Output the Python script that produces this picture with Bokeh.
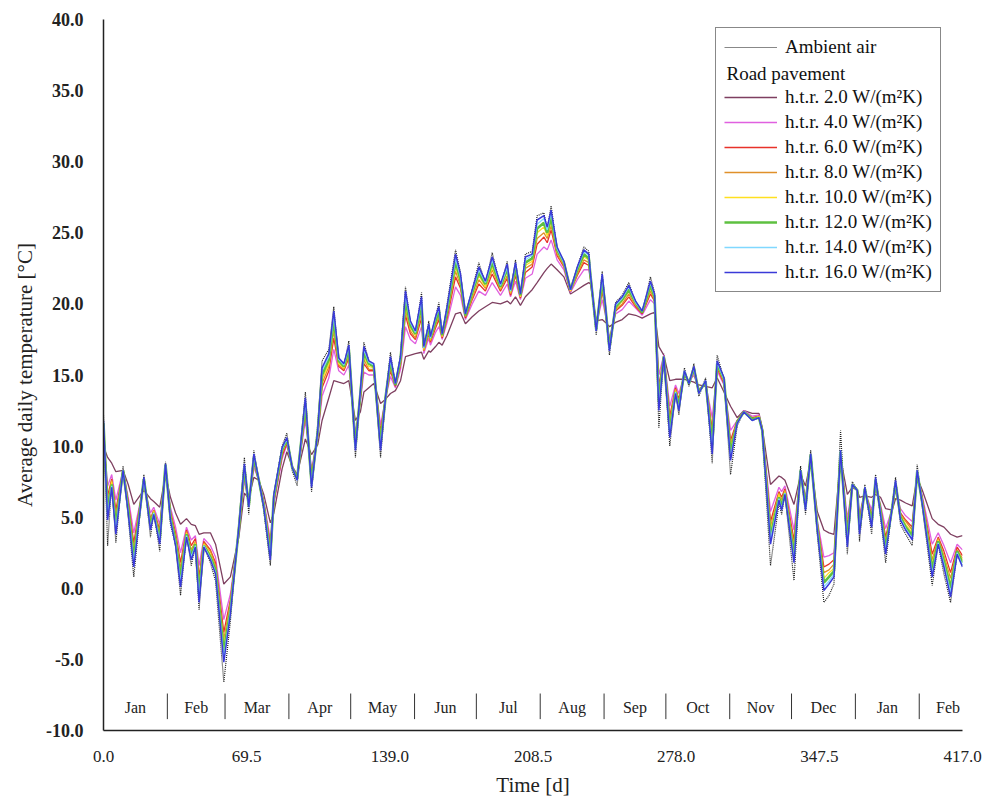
from bokeh.plotting import figure
from bokeh.models import (Range1d, FixedTicker, PrintfTickFormatter, Legend,
                          LegendItem, Label)
from bokeh.core.properties import value
from bokeh.embed import file_html
from bokeh.resources import INLINE

FONT = "Liberation Serif"
NAN = float("nan")

days = [0, 2, 4, 6, 9.5, 12, 14.7, 19.6, 22.8, 24.4,
        27.3, 30.1, 32.5, 35, 37.4, 40.3, 42.6, 44.6, 46.4, 48.7,
        51.9, 54.4, 58.4, 61.6, 65.7, 68.4, 70.5, 73, 75.4, 77.8,
        81, 82.7, 86.7, 89, 91.6, 94, 98, 101, 104, 106.1,
        109.4, 111.8, 114.2, 116.7, 119.1, 122.3, 124.7, 126.4, 128.8, 131.2,
        134.5, 136.9, 139.3, 141.7, 144.2, 146.6, 149, 151.4, 154.4, 155.5,
        157.9, 158.7, 161.2, 162.8, 164.4, 166.8, 170.9, 173.3, 175.7, 179,
        182.2, 185.4, 188.7, 192.7, 196, 197.6, 200, 202.4, 204.8, 208.1,
        210.5, 213.8, 215.4, 217.3, 220.2, 223.5, 226.7, 230, 233.2, 235.6,
        236.4, 239.2, 242.1, 243.7, 245.6, 248.6, 251.8, 255, 258.3, 261.5,
        265.5, 267.5, 269.6, 272, 274.9, 277.7, 279.3, 282, 284.2, 286.6,
        289, 292.3, 295.5, 297.9, 301.2, 304.4, 307.6, 310.9, 314.9, 318.2,
        319.8, 323.8, 327.9, 329.2, 330.8, 335.2, 338.4, 340.8, 343.3, 346.5,
        349.7, 352.2, 354.6, 357.8, 361.1, 363.5, 365.9, 367, 369.6, 372.9,
        374.8, 377.2, 379.7, 382.9, 384.5, 386.9, 389.4, 392.6, 395, 397.5,
        402.3, 405.2, 408, 411.2, 414.4, 417]

ambient = [12.2, 3.0, 7.5, 3.2, 8.6, 5.0, 0.8, 8.0, 3.6, 5.4,
           2.6, 8.9, 4.5, 3.0, -0.5, 3.8, 1.6, 3.0, -1.5, 3.0,
           1.8, 0.5, -6.6, -2.3, 4.6, 9.2, 5.2, 9.7, 7.6, 5.5,
           1.6, 6.6, 10.0, 10.9, 8.3, 7.2, 13.8, 6.8, 11.5, 16.0,
           16.8, 19.8, 16.0, 15.6, 17.4, 9.2, 13.7, 17.3, 16.0, 15.6,
           9.2, 13.3, 16.6, 14.2, 16.4, 21.2, 18.6, 17.9, 20.8, 16.6,
           18.8, 17.5, 19.1, 20.1, 17.7, 20.0, 23.8, 22.2, 19.0, 21.0,
           22.9, 21.4, 23.6, 21.2, 23.0, 20.7, 23.1, 20.4, 23.5, 23.7,
           26.2, 26.4, 25.2, 26.9, 23.8, 23.0, 20.8, 22.6, 24.0, 23.7,
           22.0, 17.8, 22.3, 19.6, 16.4, 20.1, 20.6, 21.5, 20.1, 19.3,
           21.9, 20.8, 11.3, 16.5, 10.0, 13.8, 12.2, 15.5, 14.2, 15.8,
           13.5, 14.8, 8.8, 16.4, 14.7, 8.0, 11.4, 12.5, 11.8, 12.0,
           11.0, 1.6, 6.0, 5.2, 6.6, 0.55, 8.6, 5.2, 9.7, 3.8,
           -1.0, -0.5, 0.3, 11.1, 2.4, 7.5, 6.9, 3.3, 7.3, 3.8,
           8.0, 5.0, 1.8, 5.8, 7.8, 4.5, 3.8, 3.0, 8.7, 5.7,
           0.2, 3.1, 1.0, -1.0, 2.4, 1.6]

htr_2 = [10.0, 9.2, 8.8, 8.2, 8.3, 7.3, 5.9, 6.9, 6.3, 6.1,
         5.7, 8.0, 6.4, 5.3, 4.5, 4.9, 4.5, 4.4, 3.8, 3.9,
         3.9, 3.1, 0.3, 0.8, 3.6, 6.7, 6.3, 7.8, 7.6, 6.6,
         4.6, 5.3, 8.4, 9.6, 8.6, 8.0, 10.5, 9.4, 10.1, 11.8,
         13.4, 14.6, 14.5, 14.4, 14.6, 11.8, 12.4, 13.8, 14.1, 14.4,
         13.0, 13.3, 13.7, 13.9, 14.6, 16.3, 16.4, 16.5, 16.6, 16.1,
         16.7, 16.6, 17.0, 17.3, 17.1, 17.8, 19.3, 19.4, 18.6, 19.1,
         19.5, 19.8, 20.1, 20.0, 20.2, 20.0, 20.5, 19.9, 20.5, 21.0,
         21.5, 22.2, 22.5, 22.8, 22.4, 21.9, 20.7, 21.0, 21.3, 21.5,
         21.4, 18.8, 18.9, 18.7, 18.4, 18.7, 18.9, 19.3, 19.2, 19.0,
         19.3, 19.4, 17.0, 16.4, 14.6, 14.7, 14.7, 14.7, 14.6, 14.5,
         14.3, 14.2, 14.1, 14.8, 13.8, 12.8, 12.0, 12.5, 12.3, 12.3,
         11.3, 7.3, 7.9, 7.8, 7.6, 5.9, 8.0, 7.2, 9.0, 5.4,
         4.1, 3.9, 3.8, 9.2, 6.6, 7.1, 6.9, 6.4, 6.5, 6.4,
         6.6, 6.4, 5.6, 5.5, 6.3, 6.2, 6.0, 5.8, 7.8, 6.9,
         4.9, 4.5, 4.3, 3.8, 3.6, 3.7]

htr_4 = [10.8, 7.2, 8.0, 6.2, 8.3, 6.4, 3.9, 7.3, 5.3, 5.7,
         4.5, 8.3, 5.7, 4.3, 2.5, 4.3, 3.4, 3.7, 1.6, 3.5,
         3.0, 2.2, -2.2, -0.4, 3.9, 7.6, 6.0, 8.5, 7.6, 6.2,
         3.4, 5.9, 9.1, 10.1, 8.6, 7.8, 11.8, 8.4, 10.6, 13.5,
         14.8, 16.8, 15.3, 15.0, 15.7, 10.9, 13.1, 15.2, 15.0, 15.0,
         11.5, 13.3, 14.9, 14.1, 15.4, 18.4, 17.5, 17.2, 18.4, 16.5,
         17.6, 17.1, 18.0, 18.4, 17.5, 18.7, 21.2, 20.6, 18.9, 20.0,
         20.9, 20.6, 21.5, 20.6, 21.4, 20.5, 21.6, 20.3, 21.8, 22.1,
         23.5, 24.0, 23.8, 24.5, 23.1, 22.4, 20.8, 21.7, 22.4, 22.4,
         21.7, 18.5, 20.3, 19.2, 17.6, 19.3, 19.6, 20.2, 19.7, 19.2,
         20.3, 20.0, 15.0, 16.4, 12.8, 14.3, 13.7, 15.0, 14.5, 15.0,
         14.0, 14.4, 12.0, 15.3, 14.3, 11.1, 11.8, 12.5, 12.1, 12.2,
         11.2, 5.4, 7.1, 6.8, 7.2, 4.1, 8.1, 6.4, 9.2, 4.8,
         2.2, 2.3, 2.5, 9.4, 4.9, 7.2, 6.9, 5.2, 6.8, 5.5,
         7.1, 5.9, 4.2, 5.6, 6.9, 5.6, 5.1, 4.7, 8.0, 6.5,
         3.1, 3.9, 3.0, 1.8, 3.1, 2.7]

htr_6 = [11.1, 6.5, 7.7, 5.5, 8.3, 6.1, 3.2, 7.5, 4.9, 5.5,
         4.1, 8.5, 5.4, 3.9, 1.8, 4.1, 3.0, 3.5, 0.8, 3.3,
         2.7, 1.8, -3.1, -0.8, 4.0, 8.0, 5.9, 8.8, 7.6, 6.0,
         3.0, 6.1, 9.3, 10.2, 8.5, 7.8, 12.3, 8.0, 10.7, 14.1,
         15.3, 17.6, 15.6, 15.3, 16.2, 10.5, 13.3, 15.8, 15.3, 15.3,
         11.0, 13.4, 15.3, 14.2, 15.7, 19.2, 17.9, 17.5, 19.0, 16.7,
         17.9, 17.3, 18.3, 18.9, 17.6, 19.0, 21.9, 21.1, 19.0, 20.3,
         21.4, 20.9, 22.1, 20.9, 21.8, 20.6, 22.0, 20.4, 22.2, 22.6,
         24.2, 24.7, 24.3, 25.2, 23.4, 22.6, 20.9, 22.0, 22.9, 22.7,
         21.8, 18.4, 20.9, 19.4, 17.3, 19.5, 19.9, 20.5, 19.8, 19.3,
         20.7, 20.2, 14.2, 16.3, 12.1, 14.1, 13.3, 15.1, 14.5, 15.2,
         13.9, 14.4, 11.2, 15.5, 14.4, 10.4, 11.8, 12.4, 12.0, 12.1,
         11.2, 4.7, 6.8, 6.4, 7.0, 3.4, 8.2, 6.1, 9.3, 4.6,
         1.5, 1.7, 2.0, 9.5, 4.3, 7.2, 6.9, 4.8, 6.9, 5.1,
         7.3, 5.7, 3.6, 5.6, 7.1, 5.3, 4.8, 4.3, 8.1, 6.3,
         2.4, 3.6, 2.6, 1.1, 2.9, 2.3]

htr_8 = [11.3, 6.1, 7.6, 5.1, 8.3, 5.9, 2.8, 7.5, 4.7, 5.5,
         3.9, 8.5, 5.3, 3.7, 1.4, 4.0, 2.7, 3.3, 0.4, 3.2,
         2.6, 1.6, -3.6, -1.0, 4.1, 8.2, 5.9, 9.0, 7.6, 6.0,
         2.8, 6.2, 9.5, 10.3, 8.5, 7.7, 12.6, 7.8, 10.8, 14.4,
         15.6, 18.1, 15.7, 15.4, 16.4, 10.3, 13.5, 16.1, 15.4, 15.4,
         10.7, 13.4, 15.5, 14.3, 15.8, 19.6, 18.1, 17.6, 19.4, 16.7,
         18.0, 17.4, 18.5, 19.1, 17.7, 19.2, 22.3, 21.3, 19.1, 20.4,
         21.7, 21.1, 22.4, 21.0, 22.0, 20.7, 22.2, 20.5, 22.5, 22.8,
         24.6, 25.0, 24.6, 25.5, 23.5, 22.7, 20.9, 22.1, 23.1, 22.9,
         21.9, 18.3, 21.2, 19.5, 17.2, 19.6, 20.0, 20.7, 19.9, 19.4,
         20.9, 20.3, 13.8, 16.3, 11.8, 14.0, 13.1, 15.1, 14.5, 15.3,
         13.9, 14.5, 10.8, 15.6, 14.5, 10.1, 11.7, 12.4, 11.9, 12.1,
         11.2, 4.3, 6.7, 6.2, 6.9, 3.0, 8.2, 6.0, 9.3, 4.5,
         1.1, 1.3, 1.7, 9.6, 4.0, 7.2, 6.9, 4.6, 6.9, 4.9,
         7.4, 5.5, 3.3, 5.6, 7.2, 5.2, 4.7, 4.1, 8.2, 6.2,
         2.0, 3.5, 2.3, 0.7, 2.7, 2.1]

htr_10 = [11.4, 5.7, 7.5, 4.7, 8.3, 5.7, 2.4, 7.6, 4.6, 5.4,
          3.6, 8.6, 5.1, 3.5, 1.0, 3.9, 2.5, 3.2, 0.0, 3.1,
          2.4, 1.4, -4.0, -1.3, 4.2, 8.3, 5.8, 9.1, 7.6, 5.9,
          2.5, 6.3, 9.6, 10.4, 8.5, 7.7, 12.8, 7.6, 10.9, 14.7,
          15.8, 18.5, 15.8, 15.5, 16.6, 10.1, 13.6, 16.3, 15.6, 15.5,
          10.4, 13.4, 15.8, 14.3, 15.9, 19.9, 18.3, 17.8, 19.7, 16.8,
          18.2, 17.5, 18.7, 19.3, 17.7, 19.4, 22.6, 21.5, 19.2, 20.6,
          22.0, 21.2, 22.6, 21.1, 22.3, 20.8, 22.4, 20.5, 22.7, 23.0,
          25.0, 25.4, 24.8, 25.8, 23.7, 22.8, 20.9, 22.3, 23.3, 23.1,
          22.0, 18.2, 21.4, 19.6, 17.1, 19.7, 20.2, 20.9, 20.0, 19.4,
          21.1, 20.4, 13.4, 16.3, 11.4, 13.9, 13.0, 15.2, 14.4, 15.4,
          13.8, 14.5, 10.4, 15.7, 14.6, 9.8, 11.7, 12.4, 11.9, 12.1,
          11.1, 4.0, 6.6, 6.0, 6.8, 2.7, 8.2, 5.9, 9.4, 4.4,
          0.7, 1.1, 1.4, 9.6, 3.7, 7.3, 6.9, 4.3, 7.0, 4.7,
          7.5, 5.5, 3.1, 5.7, 7.3, 5.1, 4.5, 3.9, 8.2, 6.1,
          1.7, 3.4, 2.1, 0.3, 2.6, 2.0]

htr_12 = [11.6, 5.4, 7.3, 4.4, 8.3, 5.6, 2.1, 7.7, 4.4, 5.3,
          3.4, 8.7, 5.0, 3.3, 0.7, 3.8, 2.3, 3.1, -0.4, 3.0,
          2.2, 1.3, -4.5, -1.5, 4.2, 8.5, 5.8, 9.2, 7.6, 5.8,
          2.3, 6.4, 9.7, 10.5, 8.5, 7.7, 13.0, 7.4, 11.0, 15.0,
          16.1, 18.9, 16.0, 15.6, 16.8, 10.0, 13.7, 16.6, 15.8, 15.6,
          10.1, 13.4, 16.0, 14.3, 16.1, 20.3, 18.5, 17.9, 20.0, 16.9,
          18.4, 17.6, 18.8, 19.5, 17.8, 19.5, 23.0, 21.7, 19.2, 20.8,
          22.2, 21.4, 22.9, 21.2, 22.5, 20.9, 22.6, 20.6, 22.9, 23.2,
          25.3, 25.7, 25.0, 26.1, 23.8, 22.9, 21.0, 22.4, 23.5, 23.2,
          22.0, 18.2, 21.7, 19.7, 16.9, 19.8, 20.3, 21.0, 20.1, 19.4,
          21.3, 20.5, 13.1, 16.3, 11.1, 13.8, 12.8, 15.2, 14.4, 15.5,
          13.8, 14.5, 10.1, 15.8, 14.7, 9.5, 11.7, 12.4, 11.9, 12.0,
          11.1, 3.6, 6.4, 5.8, 6.7, 2.3, 8.3, 5.7, 9.4, 4.3,
          0.4, 0.8, 1.2, 9.6, 3.4, 7.3, 6.9, 4.1, 7.0, 4.6,
          7.6, 5.4, 2.8, 5.7, 7.4, 5.0, 4.3, 3.7, 8.2, 6.0,
          1.3, 3.3, 1.9, 0.0, 2.6, 1.8]

htr_14 = [11.7, 5.1, 7.2, 4.1, 8.3, 5.4, 1.8, 7.7, 4.2, 5.3,
          3.3, 8.7, 4.9, 3.1, 0.4, 3.7, 2.2, 3.0, -0.7, 3.0,
          2.1, 1.1, -4.9, -1.6, 4.3, 8.6, 5.7, 9.4, 7.6, 5.8,
          2.2, 6.5, 9.8, 10.5, 8.5, 7.6, 13.2, 7.2, 11.0, 15.3,
          16.3, 19.2, 16.1, 15.7, 17.0, 9.8, 13.8, 16.8, 15.9, 15.7,
          9.9, 13.4, 16.1, 14.4, 16.2, 20.6, 18.7, 18.0, 20.3, 16.9,
          18.5, 17.6, 19.0, 19.7, 17.9, 19.7, 23.2, 21.9, 19.3, 20.9,
          22.4, 21.5, 23.1, 21.3, 22.6, 20.9, 22.8, 20.7, 23.1, 23.4,
          25.6, 26.0, 25.2, 26.4, 23.9, 22.9, 21.0, 22.5, 23.7, 23.4,
          22.1, 18.1, 21.9, 19.7, 16.8, 19.9, 20.4, 21.2, 20.1, 19.5,
          21.5, 20.6, 12.8, 16.3, 10.8, 13.8, 12.6, 15.3, 14.4, 15.5,
          13.7, 14.6, 9.7, 15.9, 14.7, 9.2, 11.6, 12.4, 11.8, 12.0,
          11.1, 3.4, 6.3, 5.6, 6.7, 2.0, 8.3, 5.6, 9.4, 4.2,
          0.1, 0.5, 1.0, 9.7, 3.1, 7.3, 6.9, 4.0, 7.1, 4.4,
          7.7, 5.3, 2.6, 5.7, 7.5, 4.9, 4.2, 3.5, 8.3, 6.0,
          1.0, 3.2, 1.7, -0.3, 2.5, 1.6]

htr_16 = [11.8, 4.8, 7.1, 3.8, 8.3, 5.3, 1.5, 7.8, 4.1, 5.2,
          3.1, 8.75, 4.8, 3.0, 0.1, 3.6, 2.0, 2.9, -1.0, 2.9,
          2.0, 1.0, -5.2, -1.8, 4.3, 8.75, 5.7, 9.45, 7.6, 5.7,
          2.0, 6.6, 9.9, 10.6, 8.5, 7.6, 13.4, 7.1, 11.1, 15.5,
          16.5, 19.5, 16.2, 15.8, 17.1, 9.7, 13.9, 17.0, 16.0, 15.8,
          9.7, 13.4, 16.3, 14.4, 16.3, 20.9, 18.8, 18.1, 20.5, 17.0,
          18.6, 17.7, 19.1, 19.8, 17.9, 19.8, 23.5, 22.1, 19.3, 21.0,
          22.6, 21.6, 23.3, 21.4, 22.8, 21.0, 22.9, 20.7, 23.3, 23.5,
          25.9, 26.2, 25.4, 26.6, 24.0, 23.0, 21.0, 22.6, 23.8, 23.5,
          22.1, 18.1, 22.1, 19.8, 16.7, 20.0, 20.5, 21.3, 20.2, 19.5,
          21.6, 20.7, 12.5, 16.3, 10.6, 13.7, 12.5, 15.3, 14.4, 15.6,
          13.7, 14.6, 9.45, 16.0, 14.8, 9.0, 11.6, 12.4, 11.8, 12.0,
          11.1, 3.1, 6.2, 5.5, 6.6, 1.8, 8.3, 5.5, 9.45, 4.1,
          -0.15, 0.3, 0.8, 9.7, 2.9, 7.3, 6.9, 3.8, 7.1, 4.3,
          7.8, 5.2, 2.4, 5.7, 7.6, 4.8, 4.1, 3.4, 8.3, 5.9,
          0.8, 3.1, 1.5, -0.6, 2.4, 1.5]

series_labels = ["h.t.r. 2.0 W/(m\u00b2K)", "h.t.r. 4.0 W/(m\u00b2K)",
                 "h.t.r. 6.0 W/(m\u00b2K)", "h.t.r. 8.0 W/(m\u00b2K)",
                 "h.t.r. 10.0 W/(m\u00b2K)", "h.t.r. 12.0 W/(m\u00b2K)",
                 "h.t.r. 14.0 W/(m\u00b2K)", "h.t.r. 16.0 W/(m\u00b2K)"]
series_values = [htr_2, htr_4, htr_6, htr_8, htr_10, htr_12, htr_14, htr_16]
series_colors = ["#7e3f60", "#e060e0", "#e8322a", "#e0902a",
                 "#ffe020", "#5ec040", "#80d8ff", "#3a3ad8"]
series_widths = [1.3, 1.3, 1.3, 1.3, 1.3, 2.6, 1.3, 1.5]

month_names = ["Jan", "Feb", "Mar", "Apr", "May", "Jun", "Jul", "Aug",
               "Sep", "Oct", "Nov", "Dec", "Jan", "Feb"]
month_starts = [0, 31, 59, 90, 120, 151, 181, 212, 243, 273, 304, 334, 365, 396, 424]
x_ticks = [0, 69.5, 139, 208.5, 278, 347.5, 417]
y_ticks = [-10, -5, 0, 5, 10, 15, 20, 25, 30, 35, 40]

p = figure(width=994, height=807, x_range=Range1d(0, 417), y_range=Range1d(-10, 40),
           output_backend="svg", toolbar_location=None,
           min_border_left=103, min_border_right=32, min_border_top=19,
           min_border_bottom=77)
p.outline_line_color = None
p.grid.visible = False
p.background_fill_color = "white"
p.border_fill_color = "white"

for ax in (p.xaxis[0], p.yaxis[0]):
    ax.axis_line_color = "#222222"
    ax.axis_line_width = 1.5
    ax.major_tick_line_color = None
    ax.minor_tick_line_color = None
    ax.major_label_text_font = FONT
    ax.major_label_text_font_size = "17px"
    ax.major_label_text_color = "#222222"
    ax.axis_label_text_font = FONT
    ax.axis_label_text_font_size = "21px"
    ax.axis_label_text_font_style = "normal"
    ax.axis_label_text_color = "#222222"
    ax.formatter = PrintfTickFormatter(format="%.1f")

p.yaxis.major_label_text_font_style = "bold"
p.yaxis.major_label_text_font_size = "18px"
p.xaxis.ticker = FixedTicker(ticks=x_ticks)
p.yaxis.ticker = FixedTicker(ticks=y_ticks)
p.xaxis.axis_label = "Time [d]"
p.yaxis.axis_label = "Average daily temperature [\u00b0C]"
p.xaxis.major_label_standoff = 14
p.yaxis.major_label_standoff = 14
p.xaxis.axis_label_standoff = 8
p.yaxis.axis_label_standoff = 6

# month band
bounds = month_starts[1:-1]
centers = [(a + b) / 2 for a, b in zip(month_starts[:-1], month_starts[1:])]
p.segment(x0=bounds, y0=[-7.4] * len(bounds), x1=bounds, y1=[-9.2] * len(bounds),
          line_color="#333333", line_width=1)
p.text(x=centers, y=[-8.35] * len(centers), text=month_names,
       text_font=value(FONT), text_font_size="16px", text_align="center",
       text_baseline="middle", text_color="#222222")

# ambient (dotted in plot)
r_amb = p.line(days, ambient, line_color="#222222", line_width=1.2, line_dash="1 1")
# legend proxies (no visible data)
r_amb_leg = p.line([0, 1], [NAN, NAN], line_color="#888888", line_width=1)
r_blank = p.line([0, 1], [NAN, NAN], line_color="white", line_alpha=0)

items = [LegendItem(label="Ambient air", renderers=[r_amb_leg]),
         LegendItem(label=" ", renderers=[r_blank])]
for lab, vals, col, w in zip(series_labels, series_values, series_colors, series_widths):
    r = p.line(days, vals, line_color=col, line_width=w)
    items.append(LegendItem(label=lab, renderers=[r]))

legend = Legend(items=items, location=(612, 438))
legend.label_text_font = FONT
legend.label_text_font_size = "19px"
legend.label_text_color = "#111111"
legend.glyph_width = 53
legend.glyph_height = 22
legend.label_height = 22
legend.spacing = 3
legend.padding = 8
legend.margin = 0
legend.label_standoff = 8
legend.border_line_color = "#111111"
legend.border_line_width = 1.5
legend.background_fill_alpha = 0.0
p.add_layout(legend, "center")

road_lbl = Label(x=623, y=657, x_units="screen", y_units="screen",
                 text="Road pavement", text_font=FONT, text_font_size="19px",
                 text_baseline="middle", text_color="#111111")
p.add_layout(road_lbl)

open("out.html", "w").write(file_html(p, INLINE))
